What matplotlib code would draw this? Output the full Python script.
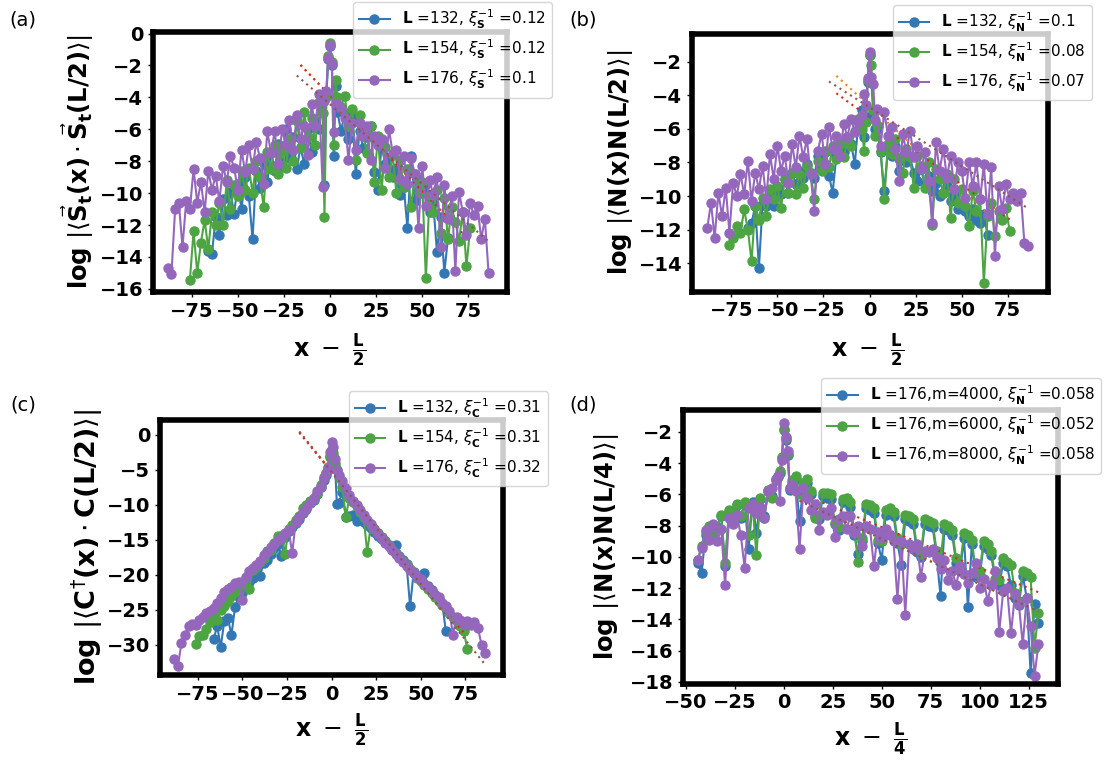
import numpy as np
import matplotlib
matplotlib.use('Agg')
import matplotlib.pyplot as plt
from matplotlib.ticker import MultipleLocator

plt.rcParams['font.family'] = ['DejaVu Sans']
plt.rcParams['mathtext.fontset'] = 'dejavusans'


def sites(lo, hi):
    s = set(range(lo, hi + 1, 2)) | {-3, -1, 1, 3}
    return np.array(sorted(s))


# ---------------- panel (a): spin correlations ----------------
a_L = [132, 154, 176]
a_inv = [0.12, 0.12, 0.1]
a_icpt = [-3.9, -3.88, -4.43]
a_fit_x0 = [-16, -16, -18]
a_fit_x1 = [64, 75, 86]
a_132 = [-13.6, -13.8, -11.5, -12.6, -10.4, -11.4, -9.9, -11.3, -9.4, -11.0, -9.0, -10.2, -12.9, -8.6, -9.7,
         -8.1, -9.3, -7.4, -8.6, -6.9, -8.3, -6.0, -7.8, -6.5, -8.5, -7.1, -8.2, -6.0, -7.4, -5.5,
         -6.0, -4.2, -9.5, -4.0, -1.6, -0.8, -2.0, -7.7, -3.3, -4.9, -6.1,
         -5.0, -6.6, -5.2, -8.8, -6.1, -7.2, -6.5, -5.8, -8.7, -9.8, -7.0, -8.2, -7.8, -9.0, -8.4,
         -10.1, -9.6, -12.2, -7.7, -10.5, -9.2, -10.0, -9.4, -11.2, -10.6, -13.7, -11.5, -15.0, -12.8]
a_154 = [-15.45, -12.4, -15.0, -13.1, -11.7, -13.5, -11.2, -12.0, -10.6, -12.0, -9.2, -11.0, -9.5, -10.2, -8.6,
         -9.8, -8.4, -10.0, -8.0, -9.0, -10.9, -7.4, -8.5, -7.0, -8.8, -7.4, -8.4, -6.6, -8.0, -5.5,
         -7.2, -4.9, -6.5, -5.3, -7.0,
         -4.3, -5.0, -11.5, -3.9, -1.4, -0.6, -1.8, -7.0, -2.9, -4.0, -4.6,
         -3.9, -5.8, -4.7, -7.9, -5.1, -6.4, -7.5, -5.8, -9.3, -6.4, -9.8, -7.1, -9.0, -7.6, -10.0,
         -7.9, -9.6, -8.5, -10.9, -8.8, -9.9, -9.3, -15.35, -10.1, -11.2, -9.8, -12.5, -10.3, -12.9, -10.9,
         -11.8, -13.0, -11.2, -14.6, -12.2]
a_176 = [-14.7, -15.1, -11.0, -10.6, -13.4, -10.5, -11.0, -8.5, -10.6, -9.3, -11.2, -8.6, -9.8, -8.9, -10.5,
         -8.3, -9.3, -7.7, -8.4, -9.8, -7.3, -8.7, -7.0, -8.5, -6.8, -7.8, -9.4, -6.1, -7.5, -6.1,
         -8.2, -6.0, -7.0, -5.4, -7.3, -5.1, -6.6, -5.8, -7.6, -4.4, -5.8,
         -3.8, -9.6, -4.2, -3.6, -1.5, -0.7, -1.9, -6.2, -4.4, -4.4, -4.7,
         -5.3, -7.9, -5.6, -7.3, -5.6, -6.4, -5.8, -7.9, -6.4, -7.0, -6.6, -8.4, -6.0, -7.5, -7.3,
         -9.1, -7.7, -9.4, -7.8, -8.8, -12.2, -8.3, -10.8, -9.2, -10.1, -9.0, -13.4, -9.5, -11.6, -10.2,
         -14.9, -9.9, -11.2, -12.6, -10.6, -11.4, -10.8, -12.9, -11.6, -15.0]

# ---------------- panel (b): density correlations ----------------
b_inv = [0.1, 0.08, 0.07]
b_icpt = [-4.64, -5.32, -4.72]
b_fit_x0 = [-18, -18, -22]
b_fit_x1 = [65, 76, 86]
b_132 = [-11.9, -11.6, -10.6, -14.3, -10.4, -10.6, -9.8, -10.6, -9.5, -9.9, -9.0, -9.8, -8.6, -9.3, -8.5,
         -8.9, -8.1, -8.6, -8.9, -7.6, -8.4, -7.4, -8.8, -9.8, -7.6, -7.1, -7.4, -6.5, -6.9, -8.1,
         -5.5, -4.9, -6.5, -5.3, -3.2, -1.6, -3.2, -5.0, -6.0, -6.0, -7.4,
         -9.7, -7.2, -7.6, -7.0, -8.5, -7.6, -8.0, -7.7, -8.6, -9.1, -8.4, -9.3, -8.8, -9.7, -9.2,
         -10.0, -9.8, -9.4, -10.3, -9.9, -10.8, -10.6, -10.9, -11.2, -10.8, -11.4, -11.6, -11.1, -12.3]
b_154 = [-12.9, -12.5, -11.8, -12.2, -10.8, -12.0, -13.9, -10.6, -11.4, -10.1, -11.2, -9.6, -10.2, -9.4, -10.7,
         -9.0, -9.8, -8.6, -9.9, -8.7, -9.5, -8.2, -8.6, -10.2, -7.9, -8.5, -7.3, -8.3, -7.0, -7.8,
         -6.9, -7.7, -6.6, -7.0, -6.1,
         -5.4, -6.0, -7.3, -5.6, -3.1, -1.6, -2.2, -4.9, -6.4, -5.8, -7.3,
         -10.2, -6.9, -7.5, -6.6, -7.8, -8.6, -7.2, -7.7, -9.5, -7.6, -8.2, -9.5, -8.0, -11.7, -8.4,
         -9.0, -9.8, -8.7, -11.3, -9.0, -10.4, -9.6, -10.6, -11.8, -9.7, -10.9, -10.2, -15.2, -11.2, -10.4,
         -12.4, -10.9, -11.4, -10.7, -12.1]
b_176 = [-11.9, -10.4, -12.5, -9.8, -11.2, -9.5, -12.2, -9.2, -10.0, -8.7, -9.9, -7.9, -10.3, -8.6, -9.6,
         -8.2, -10.2, -7.5, -9.0, -7.0, -8.5, -7.6, -9.2, -6.9, -8.3, -6.4, -7.7, -6.6, -8.7, -10.9,
         -7.3, -6.3, -8.1, -5.9, -7.2, -6.4, -7.6, -5.7, -6.5, -5.4, -6.2,
         -5.6, -5.2, -3.9, -4.6, -3.0, -1.4, -2.9, -3.3, -5.5, -4.8, -7.0,
         -5.0, -6.4, -5.9, -7.2, -9.1, -6.3, -7.4, -6.1, -7.7, -7.0, -8.4, -7.4, -9.1, -11.6, -6.8,
         -8.5, -7.2, -8.9, -7.6, -9.6, -8.0, -8.5, -10.1, -8.0, -9.4, -8.0, -10.2, -8.1, -11.1, -8.3,
         -13.6, -9.4, -10.8, -9.3, -10.2, -9.8, -10.3, -9.8, -12.8, -13.0]

# ---------------- panel (c): single-particle correlations ----------------
c_inv = [0.31, 0.31, 0.32]
c_icpt = [-5.2, -5.3, -5.3]
c_fit_x0 = [-18, -18, -18]
c_fit_x1 = [64, 75, 86]
c_132 = [-29.2, -27.3, -30.3, -26.6, -26.2, -28.6, -24.6, -23.2, -22.6, -21.6, -21.0, -20.4, -19.6, -20.1, -18.3,
         -17.9, -17.0, -16.1, -15.6, -17.3, -14.6, -13.8, -13.2, -12.6, -12.0, -11.2, -10.6, -9.8, -9.3, -8.5,
         -7.4, -6.4, -5.7, -5.0, -3.2, -2.2, -3.0, -4.4, -9.9, -9.8, -8.2,
         -11.8, -11.6, -11.4, -12.3, -12.1, -12.5, -12.9, -13.3, -13.9, -14.4, -14.9, -15.2, -15.7, -16.2, -15.8,
         -17.3, -17.9, -18.5, -24.5, -19.6, -20.1, -20.6, -19.7, -21.6, -22.2, -22.9, -23.5, -24.1, -28.0]
c_154 = [-29.9, -28.8, -28.6, -27.8, -26.8, -26.0, -26.5, -25.0, -24.5, -23.8, -23.0, -22.4, -21.8, -21.3, -20.4,
         -22.0, -19.3, -18.9, -18.2, -17.6, -16.6, -16.4, -15.4, -14.5, -14.4, -17.0, -13.4, -12.9, -12.2, -11.6,
         -10.4, -10.0, -9.4, -9.2, -8.4,
         -7.2, -6.0, -5.4, -4.6, -3.0, -2.0, -2.6, -4.0, -5.0, -6.0, -7.4,
         -11.7, -9.0, -9.6, -10.2, -11.0, -11.8, -16.8, -12.9, -13.5, -14.0, -14.6, -15.2, -15.8, -16.4, -16.9,
         -17.5, -18.0, -18.6, -19.2, -19.8, -20.4, -20.9, -21.5, -22.0, -22.6, -23.2, -23.7, -24.3, -24.8, -25.4,
         -26.0, -26.6, -27.3, -28.0, -30.6]
c_176 = [-32.0, -33.0, -29.8, -28.6, -27.3, -27.0, -27.2, -26.4, -26.0, -25.5, -25.2, -24.8, -24.0, -23.3, -22.4,
         -22.0, -21.7, -21.2, -21.0, -23.6, -20.3, -19.4, -19.0, -18.6, -18.0, -17.2, -16.8, -16.0, -15.6, -15.0,
         -14.8, -14.0, -13.6, -16.9, -12.4, -11.8, -11.0, -10.5, -9.8, -9.0, -8.0,
         -7.4, -6.2, -5.4, -4.8, -2.4, -1.0, -1.8, -3.5, -5.0, -5.8, -6.6,
         -7.6, -8.6, -9.4, -10.0, -10.8, -11.5, -12.2, -12.8, -13.4, -14.2, -14.8, -15.4, -15.9, -16.4, -17.0,
         -17.6, -18.1, -18.7, -19.3, -19.8, -20.3, -20.6, -21.3, -21.8, -22.3, -22.9, -23.2, -24.0, -24.5, -25.1,
         -28.6, -26.0, -26.4, -27.0, -26.6, -27.1, -26.8, -27.6, -30.0, -31.2]

# ---------------- panel (d): density correlations vs bond dimension ----------------
d_m = [4000, 6000, 8000]
d_inv = [0.058, 0.052, 0.058]
d_icpt = [-5.9, -5.5, -5.95]
d_fit_x0 = [8, 8, 8]
d_fit_x1 = [130, 130, 130]
d_4000 = [-10.4, -11.0, -8.6, -8.1, -8.7, -8.1, -7.4, -10.6, -7.1, -7.7, -6.7, -7.5, -6.6, -9.5, -6.5,
          -8.5, -6.3, -7.4, -5.8,
          -6.1, -5.1, -4.8, -4.6, -3.7, -1.9, -2.5, -3.5, -5.7, -5.3, -5.0,
          -7.7, -5.5, -5.3, -6.0, -7.4, -7.6, -6.1, -6.2, -6.3, -7.9, -8.3, -6.5, -6.4, -6.8, -8.6,
          -9.8, -9.0, -6.9, -7.0, -7.2, -9.1, -10.2, -7.3, -7.2, -7.4, -9.1, -10.5, -7.6, -7.7, -7.9,
          -9.7, -10.0, -7.9, -8.0, -8.1, -9.9, -12.5, -8.2, -8.3, -8.6, -10.4, -10.9, -8.8, -13.2, -9.2,
          -11.3, -11.2, -9.3, -9.5, -9.9, -11.7, -11.8, -10.4, -10.6, -11.8, -12.6, -13.1, -11.2, -12.6, -17.4,
          -13.0, -14.2]
d_6000 = [-10.2, -9.3, -8.4, -8.0, -8.8, -8.2, -7.3, -10.4, -7.0, -7.6, -6.6, -7.4, -6.5, -8.6, -6.6,
          -9.9, -6.2, -7.5, -5.7,
          -6.2, -5.0, -4.9, -4.5, -3.6, -1.8, -2.4, -3.4, -5.6, -5.1, -4.8,
          -6.0, -5.3, -5.0, -5.8, -7.5, -7.3, -5.9, -5.9, -6.0, -7.8, -8.1, -6.3, -6.2, -6.5, -8.4,
          -10.3, -8.8, -6.6, -6.7, -6.9, -8.9, -9.0, -7.0, -6.9, -7.1, -8.8, -9.2, -7.3, -7.4, -7.6,
          -9.4, -9.8, -7.6, -7.7, -7.8, -9.6, -10.2, -7.9, -8.0, -8.3, -10.1, -10.6, -8.5, -8.6, -8.9,
          -11.0, -10.9, -9.0, -9.2, -9.6, -11.4, -11.5, -10.1, -10.3, -10.5, -12.3, -12.8, -10.9, -11.0, -11.3,
          -15.8, -13.6]
d_8000 = [-10.2, -9.4, -8.3, -8.9, -7.9, -9.0, -8.2, -11.8, -7.5, -7.9, -7.3, -8.6, -10.7, -6.9, -6.6,
          -7.2, -6.8, -7.5, -5.8,
          -5.6, -5.0, -4.8, -6.4, -3.8, -1.4, -2.3, -3.2, -5.6, -5.4, -5.8,
          -9.5, -5.6, -6.2, -7.0, -6.6, -8.3, -7.1, -7.3, -6.9, -8.7, -7.6, -7.4, -8.2, -7.4, -8.5,
          -8.0, -9.3, -8.0, -8.2, -10.6, -8.4, -8.8, -8.2, -8.6, -9.0, -12.7, -9.0, -13.7, -9.2, -9.5,
          -9.2, -11.3, -9.6, -9.7, -9.5, -10.1, -10.8, -10.2, -11.5, -10.9, -11.8, -10.6, -11.1, -11.7, -11.0,
          -10.4, -12.0, -11.4, -12.8, -11.8, -10.9, -14.8, -12.2, -12.0, -14.9, -12.4, -13.0, -15.6, -12.6, -14.4,
          -17.6, -15.6]

colors = ['#3477b5', '#4ca443', '#9467bd']
fit_colors = ['#ff7f0e', '#d62728', '#8c564b']

W, H = 1106, 762
fig = plt.figure(figsize=(W / 100, H / 100), dpi=100)


def make_axes(l, t, r, b):
    return fig.add_axes([l / W, 1 - b / H, (r - l) / W, (b - t) / H])


def draw(ax, xs, ys, labels, inv, icpt, x0, x1, xlim, ylim, ystep, ylabel, ylab_size, ylab_x, xlabel,
         xlab_y, xlab_x, leg_anchor, leg_loc):
    for i in range(3):
        ax.plot(xs[i], ys[i], '-o', color=colors[i], ms=6.5, lw=1.5, label=labels[i])
        xf = np.linspace(x0[i], x1[i], 60)
        ax.plot(xf, icpt[i] - inv[i] * xf, linestyle=(0, (1, 2)), color=fit_colors[i], lw=1.5)
    ax.set_xlim(*xlim)
    ax.set_ylim(*ylim)
    ax.xaxis.set_major_locator(MultipleLocator(25))
    ax.yaxis.set_major_locator(MultipleLocator(ystep))
    ax.tick_params(labelsize=14, width=1, length=3.5)
    plt.setp(ax.get_xticklabels(), fontweight='bold')
    plt.setp(ax.get_yticklabels(), fontweight='bold')
    for s in ax.spines.values():
        s.set_linewidth(4)
    ax.set_ylabel(ylabel, fontsize=ylab_size)
    ax.set_xlabel(xlabel, fontsize=17)
    ax.yaxis.set_label_coords(ylab_x, 0.5)
    ax.xaxis.set_label_coords(xlab_x, xlab_y)
    ax.legend(loc=leg_loc, bbox_to_anchor=leg_anchor, bbox_transform=fig.transFigure,
              borderaxespad=0, labelspacing=0.45, prop=dict(size=11))


xlab2 = r'$\mathbf{x}\ -\ \frac{\mathbf{L}}{\mathbf{2}}$'
xlab4 = r'$\mathbf{x}\ -\ \frac{\mathbf{L}}{\mathbf{4}}$'

# (a)
ax = make_axes(153, 32, 507, 292)
xs = [sites(-66, 64), sites(-76, 76), sites(-88, 86)]
labs = [r'$\mathbf{L}$ =%d, $\xi_{\mathbf{S}}^{-1}$ =%g' % (L, v) for L, v in zip(a_L, a_inv)]
draw(ax, xs, [a_132, a_154, a_176], labs, a_inv, a_icpt, a_fit_x0, a_fit_x1, (-96, 96), (-16.2, 0.1), 2,
     r'$\mathbf{log}\ |\langle\vec{\mathbf{S}}_{\mathbf{t}}\mathbf{(x)}\cdot\vec{\mathbf{S}}_{\mathbf{t}}\mathbf{(L/2)}\rangle|$',
     17.5, -0.16, xlab2, -0.154, 0.5, (552 / W, 1 - 2 / H), 'upper right')

# (b)
ax = make_axes(692, 34, 1048, 291.7)
labs = [r'$\mathbf{L}$ =%d, $\xi_{\mathbf{N}}^{-1}$ =%g' % (L, v) for L, v in zip(a_L, b_inv)]
draw(ax, xs, [b_132, b_154, b_176], labs, b_inv, b_icpt, b_fit_x0, b_fit_x1, (-96.3, 96.8), (-15.7, -0.35), 2,
     r'$\mathbf{log}\ |\langle\mathbf{N(x)N(L/2)}\rangle|$',
     17.5, -0.161, xlab2, -0.155, 0.494, (1092 / W, 1 - 4.7 / H), 'upper right')

# (c)
ax = make_axes(160, 420, 503, 675)
labs = [r'$\mathbf{L}$ =%d, $\xi_{\mathbf{C}}^{-1}$ =%g' % (L, v) for L, v in zip(a_L, c_inv)]
draw(ax, xs, [c_132, c_154, c_176], labs, c_inv, c_icpt, c_fit_x0, c_fit_x1, (-96, 96), (-34.3, 2.1), 5,
     r'$\mathbf{log}\ |\langle\mathbf{C}^{\dagger}\mathbf{(x)}\cdot\mathbf{C(L/2)}\rangle|$',
     19.5, -0.16, xlab2, -0.144, 0.5, (547.7 / W, 1 - 390.7 / H), 'upper right')

# (d)
ax = make_axes(683, 410, 1058, 683.5)
xd = sites(-44, 130)
labs = [r'$\mathbf{L}$ =176,m=%d, $\xi_{\mathbf{N}}^{-1}$ =%g' % (m, v) for m, v in zip(d_m, d_inv)]
draw(ax, [xd, xd, xd], [d_4000, d_6000, d_8000], labs, d_inv, d_icpt, d_fit_x0, d_fit_x1, (-51.5, 140),
     (-18.1, -0.6), 2, r'$\mathbf{log}\ |\langle\mathbf{N(x)N(L/4)}\rangle|$',
     17.5, -0.165, xlab4, -0.134, 0.5, (821 / W, 1 - 378 / H), 'upper left')

for txt, (px, py) in zip(['(a)', '(b)', '(c)', '(d)'], [(23, 20), (583, 20), (23, 405), (583, 405)]):
    fig.text(px / W, 1 - py / H, txt, ha='center', va='center', fontsize=14)

fig.savefig('out.png', dpi=100)
